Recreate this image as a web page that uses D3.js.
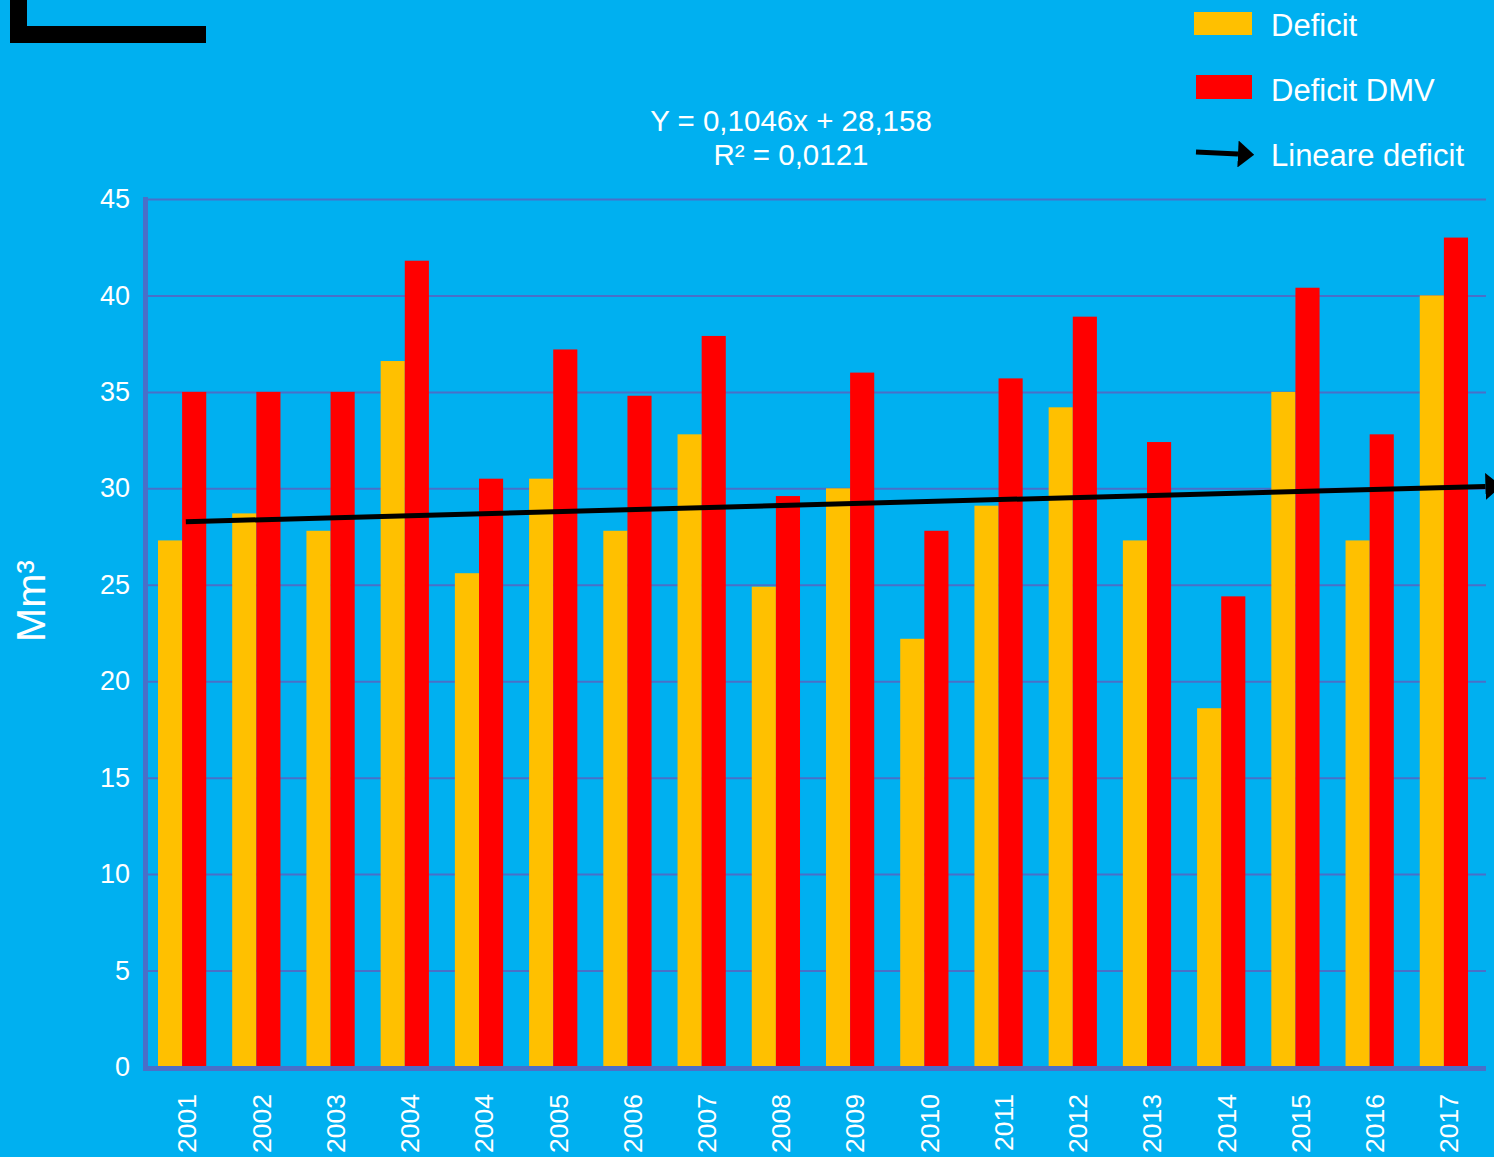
<!DOCTYPE html>
<html>
<head>
<meta charset="utf-8">
<script src="https://cdn.jsdelivr.net/npm/d3@7"></script>
<style>
  html, body { margin: 0; padding: 0; background: #00b0f0; }
  svg { display: block; }
  text { font-family: "Liberation Sans", Arial, Helvetica, sans-serif; fill: #ffffff; }
</style>
</head>
<body>
<div id="chart"></div>
<script>
// data
var years = ["2001","2002","2003","2004","2004 ","2005","2006","2007","2008","2009","2010","2011","2012","2013","2014","2015","2016","2017"];
var deficit = [27.3, 28.7, 27.8, 36.6, 25.6, 30.5, 27.8, 32.8, 24.9, 30.0, 22.2, 29.1, 34.2, 27.3, 18.6, 35.0, 27.3, 40.0];
var deficitDMV = [35.0, 35.0, 35.0, 41.8, 30.5, 37.2, 34.8, 37.9, 29.6, 36.0, 27.8, 35.7, 38.9, 32.4, 24.4, 40.4, 32.8, 43.0];
var yTicks = [0, 5, 10, 15, 20, 25, 30, 35, 40, 45];
var trendSlope = 0.1046, trendIntercept = 28.158;
var trendRange = [1.05, 18.56];
var seriesNames = ["Deficit", "Deficit DMV", "Lineare deficit"];

var W = 1494, H = 1157;
var colYellow = "#ffc000", colRed = "#ff0000", colAxis = "#4a6fc8";

var svg = d3.select("#chart").append("svg")
    .attr("width", W)
    .attr("height", H);

svg.append("rect").attr("width", W).attr("height", H).attr("fill", "#00b0f0");

// arrow head, tall and short like the original
var defs = svg.append("defs");
defs.append("marker")
    .attr("id", "arrow")
    .attr("viewBox", "0 0 6 10")
    .attr("refX", 0).attr("refY", 5)
    .attr("markerWidth", 3.3).attr("markerHeight", 5.4)
    .attr("markerUnits", "strokeWidth")
    .attr("orient", "auto")
  .append("path")
    .attr("d", "M0,0 L6,5 L0,10 Z")
    .attr("fill", "#000");

// scales
var x = d3.scaleBand()
    .domain(years)
    .range([145, 1481])
    .paddingInner(0.35)
    .paddingOuter(0.175);

var x1 = d3.scaleBand()
    .domain(["d", "dmv"])
    .range([0, x.bandwidth()]);

var y = d3.scaleLinear()
    .domain([0, 45])
    .range([1067, 199]);

// position on the trend's own x (1..n)
var xt = d3.scaleLinear()
    .domain([1, years.length])
    .range([x(years[0]) + x.bandwidth() / 2, x(years[years.length - 1]) + x.bandwidth() / 2]);

// gridlines + y labels
var yAxis = d3.axisLeft(y)
    .tickValues(yTicks)
    .tickSize(-(1486 - 146))
    .tickPadding(16)
    .tickFormat(d3.format("d"));

var gy = svg.append("g")
    .attr("transform", "translate(146,0)")
    .call(yAxis);
gy.select(".domain").remove();
gy.selectAll(".tick line").attr("stroke", colAxis).attr("stroke-width", 2);
gy.selectAll(".tick text")
    .style("font-size", "27px")
    .attr("fill", "#fff");

// bars
var groups = svg.selectAll(".grp")
    .data(years)
  .enter().append("g")
    .attr("class", "grp")
    .attr("transform", function(d) { return "translate(" + x(d) + ",0)"; });

groups.append("rect")
    .attr("x", x1("d"))
    .attr("width", x1.bandwidth())
    .attr("y", function(d, i) { return y(deficit[i]); })
    .attr("height", function(d, i) { return y(0) - y(deficit[i]); })
    .attr("fill", colYellow);

groups.append("rect")
    .attr("x", x1("dmv"))
    .attr("width", x1.bandwidth())
    .attr("y", function(d, i) { return y(deficitDMV[i]); })
    .attr("height", function(d, i) { return y(0) - y(deficitDMV[i]); })
    .attr("fill", colRed);

// axis lines
svg.append("line")
    .attr("x1", 145.5).attr("x2", 145.5)
    .attr("y1", y(45) - 2).attr("y2", 1070)
    .attr("stroke", colAxis).attr("stroke-width", 5);
svg.append("line")
    .attr("x1", 143).attr("x2", 1486)
    .attr("y1", 1068.5).attr("y2", 1068.5)
    .attr("stroke", colAxis).attr("stroke-width", 5);

// x labels
svg.selectAll(".xlab")
    .data(years)
  .enter().append("text")
    .attr("class", "xlab")
    .attr("transform", function(d) {
        return "translate(" + (x(d) + x.bandwidth() / 2 + 5) + ",1094) rotate(-90)";
    })
    .attr("text-anchor", "end")
    .attr("dy", "0.35em")
    .style("font-size", "26.5px")
    .text(function(d) { return d.trim(); });

// trend line
var line = d3.line()
    .x(function(d) { return xt(d); })
    .y(function(d) { return y(trendSlope * d + trendIntercept); });

svg.append("path")
    .datum(trendRange)
    .attr("d", line)
    .attr("stroke", "#000")
    .attr("stroke-width", 5)
    .attr("fill", "none")
    .attr("marker-end", "url(#arrow)");

// equation
svg.append("text")
    .attr("x", 791).attr("y", 131)
    .attr("text-anchor", "middle")
    .style("font-size", "29.5px")
    .text("Y = 0,1046x + 28,158");
svg.append("text")
    .attr("x", 791).attr("y", 165)
    .attr("text-anchor", "middle")
    .style("font-size", "29.5px")
    .text("R\u00b2 = 0,0121");

// y title
svg.append("text")
    .attr("transform", "translate(31,601) rotate(-90)")
    .attr("text-anchor", "middle")
    .attr("dy", "0.35em")
    .style("font-size", "41px")
    .text("Mm\u00b3");

// legend
var legend = svg.append("g");
legend.append("rect")
    .attr("x", 1194).attr("y", 12).attr("width", 58).attr("height", 23)
    .attr("fill", colYellow);
legend.append("rect")
    .attr("x", 1196).attr("y", 75).attr("width", 56).attr("height", 24)
    .attr("fill", colRed);
legend.append("line")
    .attr("x1", 1196).attr("x2", 1238)
    .attr("y1", 152).attr("y2", 154)
    .attr("stroke", "#000").attr("stroke-width", 5)
    .attr("marker-end", "url(#arrow)");

legend.selectAll(".legtxt")
    .data(seriesNames)
  .enter().append("text")
    .attr("class", "legtxt")
    .attr("x", 1271)
    .attr("y", function(d, i) { return 36 + i * 65; })
    .style("font-size", "31px")
    .text(function(d) { return d; });

// decorative black corner at top-left
svg.append("path")
    .attr("d", "M10,0 L27,0 L27,26 L206,26 L206,43 L10,43 Z")
    .attr("fill", "#000");
</script>
</body>
</html>
